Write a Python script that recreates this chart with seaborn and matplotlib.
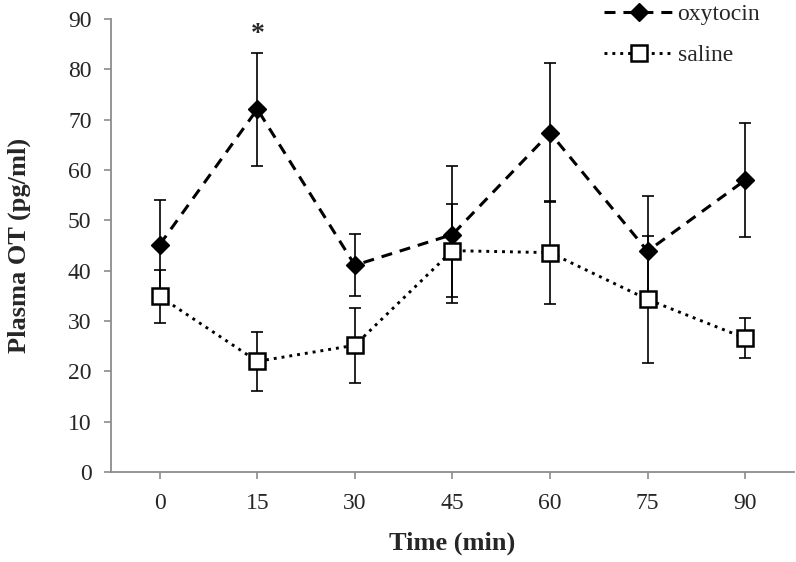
import numpy as np
import pandas as pd
import seaborn as sns
from matplotlib import pyplot as plt

# %% Data
times = ['0', '15', '30', '45', '60', '75', '90']
oxy_mean = [45.2, 72.1, 41.1, 47.2, 67.4, 43.9, 58.0]
oxy_se = [8.9, 11.2, 6.2, 13.6, 13.8, 10.9, 11.3]
sal_mean = [34.9, 22.0, 25.2, 44.0, 43.6, 34.3, 26.6]
sal_se = [5.2, 5.8, 7.5, 9.2, 10.3, 12.6, 4.0]

pos = np.arange(len(times))
dfData = pd.DataFrame({'pos': pos,
                       'oxy': oxy_mean, 'oxy_se': oxy_se,
                       'sal': sal_mean, 'sal_se': sal_se})

# %% Style
sns.set_style('ticks')
plt.rcParams['font.family'] = ['Liberation Serif', 'DejaVu Serif']
spine_col = '#8c8c8c'

fig = plt.figure(figsize=(7.96, 5.62), dpi=100)
ax = fig.add_axes([0.1394, 0.160, 0.858, 0.806])

# error bars under the markers
ax.errorbar(dfData.pos, dfData.oxy, yerr=dfData.oxy_se, fmt='none',
            ecolor='k', elinewidth=1.2, capsize=4, capthick=1.2, zorder=2)
ax.errorbar(dfData.pos, dfData.sal, yerr=dfData.sal_se, fmt='none',
            ecolor='k', elinewidth=1.2, capsize=4, capthick=1.2, zorder=2)

sns.lineplot(data=dfData, x='pos', y='oxy', ax=ax, color='k',
             linewidth=2.2, linestyle=(0, (3.6, 2.6)),
             marker='D', markersize=9.5, markerfacecolor='k',
             markeredgecolor='k', markeredgewidth=1,
             label='oxytocin', zorder=3)
sns.lineplot(data=dfData, x='pos', y='sal', ax=ax, color='k',
             linewidth=2.1, linestyle=(0, (1, 1.7)),
             marker='s', markersize=11, markerfacecolor='white',
             markeredgecolor='k', markeredgewidth=1.8,
             label='saline', zorder=3)

ax.text(1, 85.6, '*', ha='center', va='baseline', fontsize=20,
        fontweight='bold')

ax.set_xlim(-0.5, len(times) - 0.5)
ax.set_ylim(0, 90)
ax.set_yticks(range(0, 91, 10))
ax.set_xticks(pos)
ax.set_xticklabels(times)
ax.tick_params(axis='both', labelsize=17, color=spine_col, length=5,
               width=1.2, direction='out')
ax.tick_params(axis='x', pad=10)
ax.tick_params(axis='y', pad=9)
for s in ('top', 'right'):
    ax.spines[s].set_visible(False)
for s in ('left', 'bottom'):
    ax.spines[s].set_color(spine_col)
    ax.spines[s].set_linewidth(1.3)

ax.set_xlabel('Time (min)', fontsize=19, fontweight='bold')
ax.set_ylabel('Plasma OT (pg/ml)', fontsize=19, fontweight='bold')
ax.xaxis.set_label_coords(0.5, -0.132)
ax.yaxis.set_label_coords(-0.117, 0.5)

ax.legend_.remove()
h, l = ax.get_legend_handles_labels()
fig.legend(h, l, loc='upper right', bbox_to_anchor=(0.955, 0.993),
           frameon=False, fontsize=17, handlelength=2.9, numpoints=1,
           labelspacing=0.8, borderpad=0, borderaxespad=0, handletextpad=0.2)

fig.savefig('out.png', dpi=100)
